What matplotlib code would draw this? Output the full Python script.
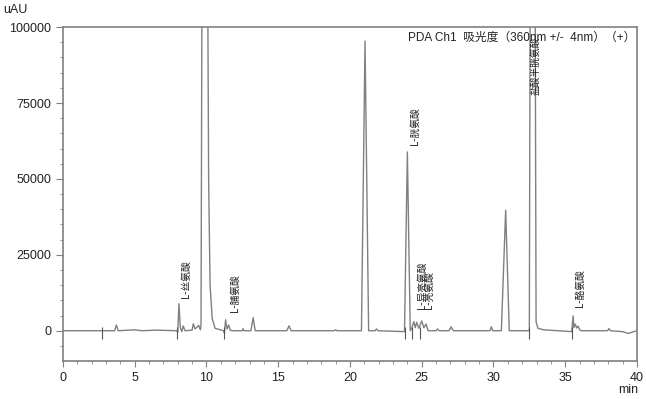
import matplotlib
matplotlib.use("Agg")
import matplotlib.pyplot as plt

# 色谱数据（min, uAU）
rt = [0, 2.6, 3.6, 3.72, 3.85, 5.0, 5.5, 6.5, 7.9, 8.0, 8.08, 8.18, 8.28, 8.38, 8.5,
      9.0, 9.08, 9.2, 9.35, 9.45, 9.58, 9.62, 9.7, 9.9, 10.08, 10.15, 10.25, 10.4, 10.6,
      11.2, 11.25, 11.33, 11.43, 11.55, 11.65, 11.8, 12.5, 12.55, 12.6, 13.1, 13.25, 13.4,
      15.6, 15.75, 15.9, 18.9, 19.0, 19.1, 20.8, 21.05, 21.3, 21.75, 21.85, 21.95,
      23.8, 24.0, 24.2, 24.3, 24.45, 24.55, 24.65, 24.8, 25.0, 25.15, 25.3, 25.45,
      26.0, 26.1, 26.2, 26.9, 27.05, 27.2, 29.75, 29.85, 29.95, 30.55, 30.85, 31.1,
      32.5, 32.56, 32.73, 32.9, 32.97, 33.1, 33.5, 34.5, 35.45, 35.55, 35.6, 35.7, 35.8,
      35.9, 36.0, 36.1, 37.95, 38.05, 38.15, 39.0, 39.4, 39.7, 40.0]
signal = [0, 0, 0, 1900, 0, 300, 0, 200, 0, -500, 8900, 1000, -300, 1600, 0,
          200, 2300, 600, 1200, 1800, 300, 2000, 140000, 300000, 120000, 50000, 15000, 4000, 800,
          0, -800, 3600, 600, 1900, 200, 0, 0, 700, 0, 0, 4300, 0,
          0, 1600, 0, 0, 300, 0, 0, 95400, 0, 0, 600, 0,
          -300, 58900, 0, 800, 3000, 1000, 2800, 800, 3200, 1000, 2200, 0,
          0, 600, 0, 0, 1300, 0, 0, 1300, 0, 0, 39700, 0,
          0, 120000, 300000, 120000, 3000, 800, 300, 0, -300, 4900, 1000, 2200, 900,
          1500, 400, 0, 0, 700, 0, -300, -900, -400, 0]

# 积分标记位置
marks = [2.75, 7.95, 11.2, 23.85, 24.35, 24.85, 32.5, 35.45]

# 峰标注
peak_names = ["L-丝氨酸", "L-脯氨酸", "L-胱氨酸", "L-异亮氨酸", "L-亮氨酸", "盐酸半胱氨酸", "L-酪氨酸"]
peak_x = [8.6, 12.0, 24.5, 25.0, 25.5, 32.95, 36.0]
peak_y = [10800, 6300, 61200, 7000, 7000, 77600, 7900]

FONT = ["Liberation Sans", "Noto Sans CJK SC"]
plt.rcParams["font.family"] = FONT
GREY = "#808080"

fig = plt.figure(figsize=(6.46, 3.99), dpi=100)
ax = fig.add_axes([0.0975, 0.095, 0.8885, 0.837])

ax.plot(rt, signal, color=GREY, lw=1.0)
ax.vlines(marks, -2800, 1200, color="#555555", lw=0.8)

for name, x, y in zip(peak_names, peak_x, peak_y):
    ax.text(x, y, name, rotation=90, ha="center", va="bottom", fontsize=7,
            family=["Noto Sans CJK SC", "DejaVu Sans"], color="#222222")

ax.text(0.997, 0.985, "PDA Ch1  吸光度（360nm +/-  4nm）（+）", transform=ax.transAxes,
        ha="right", va="top", fontsize=8.5, family=FONT, color="#222222")

ax.set_xlim(0, 40)
ax.set_ylim(-10000, 100000)
ax.set_xticks(range(0, 41, 5))
ax.set_xticks(range(0, 41, 1), minor=True)
ax.set_yticks(range(0, 100001, 25000))
ax.set_yticks(range(-5000, 100001, 5000), minor=True)

for s in ax.spines.values():
    s.set_color(GREY)
    s.set_linewidth(1.2)
ax.tick_params(which="major", length=4, color=GREY, labelsize=9, labelcolor="#222222")
ax.tick_params(which="minor", length=2, color=GREY)
ax.tick_params(axis="y", which="major", length=5)

fig.text(3 / 646, 1 - 10 / 399, "uAU", ha="left", va="center", fontsize=9, color="#222222")
fig.text(628 / 646, 1 - 390 / 399, "min", ha="center", va="center", fontsize=9, color="#222222")

fig.savefig("out.png", dpi=100)
